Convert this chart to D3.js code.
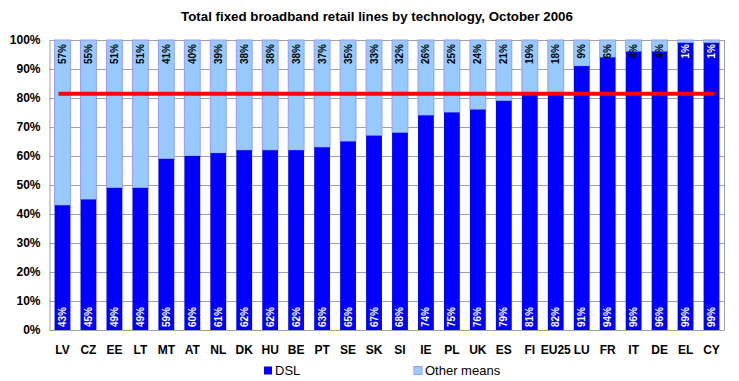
<!DOCTYPE html>
<html><head><meta charset="utf-8">
<script src="https://cdn.jsdelivr.net/npm/d3@7"></script>
<style>body{margin:0;background:#fff}svg{display:block;font-family:Arial,"Liberation Sans",sans-serif}</style>
</head><body><svg id="c" width="739" height="381"></svg>
<script>
const countries = ["LV","CZ","EE","LT","MT","AT","NL","DK","HU","BE","PT","SE","SK","SI","IE","PL","UK","ES","FI","EU25","LU","FR","IT","DE","EL","CY"];
const dsl   = [43,45,49,49,59,60,61,62,62,62,63,65,67,68,74,75,76,79,81,82,91,94,96,96,99,99];
const other = [57,55,51,51,41,40,39,38,38,38,37,35,33,32,26,25,24,21,19,18,9,6,4,4,1,1];
const eu25Average = 81.5;
const yTicks = [0,10,20,30,40,50,60,70,80,90,100];
const seriesNames = ["DSL","Other means"];
const title = "Total fixed broadband retail lines by technology, October 2006";

const svg = d3.select("#c");
const m = {l:49.5, r:724.5, t:40, b:330};
const x = d3.scaleBand().domain(countries).range([m.l, m.r]).paddingInner(0.39).paddingOuter(0.195);
const y = d3.scaleLinear().domain([0,100]).range([m.b, m.t]);

const defs = svg.append("defs");
const pat = defs.append("pattern").attr("id","hatch").attr("width",3).attr("height",3).attr("patternUnits","userSpaceOnUse");
pat.append("rect").attr("width",3).attr("height",3).attr("fill","#99CCFF");
pat.append("path").attr("d","M0,3 L3,0").attr("stroke","#8fc0f5").attr("stroke-width",0.6);

svg.append("text").attr("x",377).attr("y",21).attr("text-anchor","middle")
  .attr("font-weight","bold").attr("font-size",13.3).text(title);

// grid
svg.append("g").selectAll("line").data(yTicks).join("line")
  .attr("x1",m.l).attr("x2",m.r).attr("y1",d=>y(d)+0.5).attr("y2",d=>y(d)+0.5)
  .attr("stroke","#a0a0a0").attr("stroke-width",1);
svg.append("line").attr("x1",m.r).attr("x2",m.r).attr("y1",m.t).attr("y2",m.b).attr("stroke","#a0a0a0");

// y axis
const ya = svg.append("g").attr("transform",`translate(${m.l},0)`)
  .call(d3.axisLeft(y).tickValues(yTicks).tickFormat(d=>d+"%").tickSize(0).tickPadding(9));
ya.select(".domain").attr("stroke","#a0a0a0");
ya.selectAll("text").attr("font-size",12).attr("font-weight","bold").attr("fill","#000").attr("font-family","Arial,'Liberation Sans',sans-serif");

// bars
const bw = x.bandwidth();
svg.append("g").selectAll("rect").data(countries).join("rect")
  .attr("x",d=>x(d)).attr("width",bw)
  .attr("y",(d,i)=>y(dsl[i]+other[i])).attr("height",(d,i)=>y(dsl[i])-y(dsl[i]+other[i]))
  .attr("fill","url(#hatch)").attr("stroke","#9999FF").attr("stroke-width",1);
svg.append("g").selectAll("rect").data(countries).join("rect")
  .attr("x",d=>x(d)).attr("width",bw)
  .attr("y",(d,i)=>y(dsl[i])).attr("height",(d,i)=>y(0)-y(dsl[i]))
  .attr("fill","#0000FF");

// labels
const lab = svg.append("g").attr("font-size",10).attr("font-weight","bold");
countries.forEach((c,i)=>{
  const cx = x(c)+bw/2+3.5;
  lab.append("text").attr("transform",`translate(${cx},${y(0)-3}) rotate(-90)`)
    .attr("fill","#fff").text(dsl[i]+"%");
  const t = lab.append("text").attr("transform",`translate(${cx},${y(100)+4}) rotate(-90)`)
    .attr("text-anchor","end").text(other[i]+"%");
  if (other[i] < 3) t.attr("fill","#fff").attr("stroke","#000").attr("stroke-width",0.5).attr("paint-order","stroke");
  else t.attr("fill","#000");
});

// average line
svg.append("line").attr("x1",x(countries[0])+bw/2-4).attr("x2",x(countries[countries.length-1])+bw/2+3)
  .attr("y1",y(eu25Average)).attr("y2",y(eu25Average)).attr("stroke","#FF0000").attr("stroke-width",4);

// x labels
svg.append("g").selectAll("text").data(countries).join("text")
  .attr("x",d=>x(d)+bw/2).attr("y",354).attr("text-anchor","middle")
  .attr("font-size",12).attr("font-weight","bold").text(d=>d);

// legend
const leg = [{n:seriesNames[0],x:264,fill:"#0000FF",stroke:"none"},{n:seriesNames[1],x:414,fill:"#99CCFF",stroke:"#9999FF"}];
leg.forEach(l=>{
  svg.append("rect").attr("x",l.x).attr("y",366.5).attr("width",8).attr("height",8).attr("fill",l.fill).attr("stroke",l.stroke);
  svg.append("text").attr("x",l.x+11).attr("y",375).attr("font-size",13).text(l.n);
});
</script></body></html>
